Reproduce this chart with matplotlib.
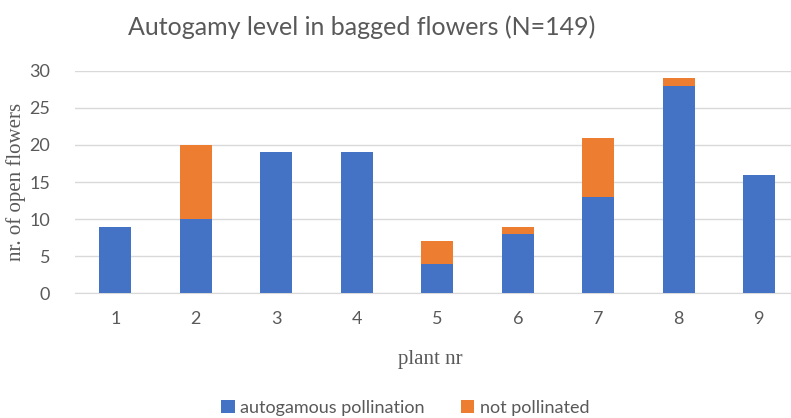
import matplotlib.pyplot as plt
import numpy as np

plants = ["1", "2", "3", "4", "5", "6", "7", "8", "9"]
autogamous = [9, 10, 19, 19, 4, 8, 13, 28, 16]
not_pollinated = [0, 10, 0, 0, 3, 1, 8, 1, 0]

blue = "#4472C4"
orange = "#ED7D31"
grey = "#595959"

fig = plt.figure(figsize=(7.91, 4.18), dpi=100)
ax = fig.add_axes([75 / 791, 0.2983, 724.5 / 791, 0.5325])

x = np.arange(len(plants))
ax.bar(x, autogamous, width=0.4, color=blue, label="autogamous pollination", zorder=3)
ax.bar(x, not_pollinated, width=0.4, bottom=autogamous, color=orange,
       label="not pollinated", zorder=3)

ax.set_xlim(-0.5, 8.5)
ax.set_ylim(0, 30)
ax.set_yticks(range(0, 31, 5))
ax.set_xticks(x)
ax.set_xticklabels(plants)
ax.grid(axis="y", color="#D9D9D9", lw=1, zorder=0)
for s in ["top", "right", "left"]:
    ax.spines[s].set_visible(False)
ax.spines["bottom"].set_color("#D9D9D9")
ax.tick_params(length=0, labelsize=13, labelcolor=grey)
ax.tick_params(axis="x", pad=13)
ax.tick_params(axis="y", pad=18)
for lab in ax.get_xticklabels() + ax.get_yticklabels():
    lab.set_family("Lato")

ax.set_xlabel("plant nr", family="Liberation Serif", fontsize=15, color=grey)
ax.xaxis.set_label_coords(0.49, -0.255)
ax.set_ylabel("nr. of open flowers", family="Liberation Serif", fontsize=15, color=grey)
ax.yaxis.set_label_coords(-0.068, 0.5)

fig.text(0.457, 0.935, "Autogamy level in bagged flowers (N=149)", ha="center", va="center",
         family="Lato", fontsize=18, color=grey)

fig.legend(loc="center", bbox_to_anchor=(0.512, 0.025), ncol=2, frameon=False,
           prop={"family": "Lato", "size": 13}, labelcolor=grey,
           handlelength=0.75, handleheight=0.75, handletextpad=0.3, columnspacing=2.0)

fig.savefig("out.png", dpi=100)
